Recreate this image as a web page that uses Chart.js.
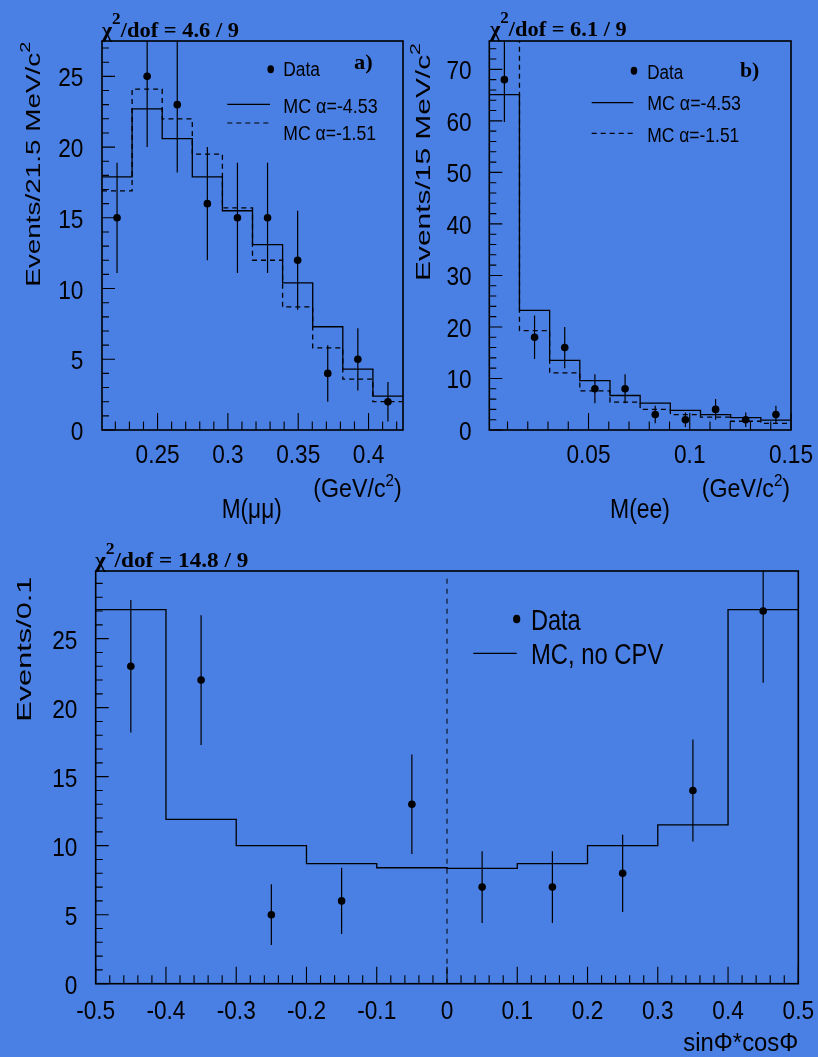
<!DOCTYPE html>
<html>
<head>
<meta charset="utf-8">
<script src="https://cdn.jsdelivr.net/npm/chart.js@4/dist/chart.umd.min.js"></script>
<style>
  html, body { margin: 0; padding: 0; background: #4a7fe3; }
  body { width: 818px; height: 1057px; position: relative; overflow: hidden; }
  canvas { position: absolute; }
</style>
</head>
<body>
<canvas id="ca" width="409" height="530" style="left:0;top:0"></canvas>
<canvas id="cb" width="409" height="530" style="left:409px;top:0"></canvas>
<canvas id="cc" width="818" height="527" style="left:0;top:530px"></canvas>
<script>
// ---- panel a: M(mu mu) ----
const aBinLo = 0.2105, aBinW = 0.0214;
const aData = [15, 25, 23, 16, 15, 15, 12, 4, 5, 2];
const aErr = [3.9, 5.0, 4.8, 4.0, 3.9, 3.9, 3.5, 2.0, 2.2, 1.4];
const aMcA = [17.9, 22.7, 20.6, 17.9, 15.5, 13.1, 10.4, 7.3, 4.3, 2.4];   // alpha = -4.53
const aMcB = [16.9, 24.1, 22.0, 19.5, 15.7, 12.0, 8.7, 5.8, 3.6, 2.0];    // alpha = -1.51
const aTicksX = [0.25, 0.3, 0.35, 0.4];
const aTicksY = [0, 5, 10, 15, 20, 25];

// ---- panel b: M(ee) ----
const bBinLo = 0.001, bBinW = 0.0149;
const bData = [68, 18, 16, 8, 8, 3, 2, 4, 2, 3];
const bErr = [8.2, 4.2, 4.0, 2.8, 2.8, 1.7, 1.4, 2.0, 1.4, 1.7];
const bMcA = [65.1, 23.2, 13.5, 9.6, 6.7, 5.2, 3.8, 3.0, 2.4, 1.9];
const bMcB = [79, 19.3, 11.1, 7.6, 5.4, 4.0, 3.0, 2.5, 1.7, 1.3];
const bTicksX = [0.05, 0.1, 0.15];
const bTicksY = [0, 10, 20, 30, 40, 50, 60, 70];

// ---- panel c: sinPhi*cosPhi ----
const cBinLo = -0.5, cBinW = 0.1;
const cData = [23, 22, 5, 6, 13, 7, 7, 8, 14, 27];
const cErr = [4.8, 4.7, 2.2, 2.4, 3.6, 2.6, 2.6, 2.8, 3.7, 5.2];
const cMc = [27.1, 11.9, 10.0, 8.7, 8.4, 8.35, 8.7, 10.0, 11.5, 27.1];
const cTicksX = [-0.5, -0.4, -0.3, -0.2, -0.1, 0, 0.1, 0.2, 0.3, 0.4, 0.5];
const cTicksY = [0, 5, 10, 15, 20, 25];

const SANS = '"Liberation Sans", Arial, Helvetica, sans-serif';
const SERIF = '"Liberation Serif", "Times New Roman", serif';

function histPts(lo, w, vals) {
  const pts = vals.map((v, i) => ({ x: lo + i * w, y: v }));
  pts.push({ x: lo + vals.length * w, y: vals[vals.length - 1] });
  return pts;
}
function centerPts(lo, w, vals) {
  return vals.map((v, i) => ({ x: lo + (i + 0.5) * w, y: v }));
}
function errPts(lo, w, vals, errs) {
  const pts = [];
  vals.forEach((v, i) => {
    const x = lo + (i + 0.5) * w;
    pts.push({ x: x, y: v - errs[i] }, { x: x, y: v + errs[i] }, { x: x, y: null });
  });
  return pts;
}

// draws text segments (for superscripts), optionally squeezed to a width
function text(ctx, segs, x, y, o) {
  o = o || {};
  ctx.save();
  ctx.translate(x, y);
  if (o.rot) ctx.rotate(o.rot);
  let w = 0;
  segs.forEach(s => { ctx.font = s.f; w += ctx.measureText(s.t).width; });
  ctx.scale(o.w ? o.w / w : (o.sx || 1), 1);
  let cx = o.align === 'right' ? -w : o.align === 'center' ? -w / 2 : 0;
  ctx.fillStyle = '#000';
  ctx.textAlign = 'left';
  ctx.textBaseline = 'alphabetic';
  segs.forEach(s => {
    ctx.font = s.f;
    ctx.fillText(s.t, cx, s.dy || 0);
    cx += ctx.measureText(s.t).width;
  });
  ctx.restore();
}

function sampleLine(ctx, x1, x2, y, dash) {
  ctx.save();
  ctx.strokeStyle = '#000';
  ctx.lineWidth = 1.2;
  ctx.setLineDash(dash || []);
  ctx.beginPath(); ctx.moveTo(x1, y); ctx.lineTo(x2, y); ctx.stroke();
  ctx.restore();
}
function dot(ctx, x, y, r) {
  ctx.fillStyle = '#000';
  ctx.beginPath(); ctx.ellipse(x, y, r, r * 1.2, 0, 0, Math.PI * 2); ctx.fill();
}

// ROOT-like frame: ticks inside, labels, then panel texts (page coords)
function rootFrame(cfg) {
  return {
    id: 'rootFrame',
    afterDatasetsDraw(chart) {
      const ctx = chart.ctx, a = chart.chartArea;
      const xs = chart.scales.x, ys = chart.scales.y;
      ctx.save();
      ctx.strokeStyle = '#000';
      ctx.lineWidth = 1.1;
      ctx.beginPath();
      for (let i = Math.ceil(ys.min / cfg.yMinor - 1e-6); i * cfg.yMinor <= ys.max + 1e-9; i++) {
        const v = i * cfg.yMinor;
        const major = Math.abs(v / cfg.yMajor - Math.round(v / cfg.yMajor)) < 1e-6;
        const py = ys.getPixelForValue(v);
        ctx.moveTo(a.left, py); ctx.lineTo(a.left + (major ? 13 : 7), py);
      }
      for (let i = Math.ceil(xs.min / cfg.xMinor - 1e-6); i * cfg.xMinor <= xs.max + 1e-9; i++) {
        const v = i * cfg.xMinor;
        const major = Math.abs(v / cfg.xMajor - Math.round(v / cfg.xMajor)) < 1e-6;
        const px = xs.getPixelForValue(v);
        ctx.moveTo(px, a.bottom); ctx.lineTo(px, a.bottom - (major ? 17 : 8.5));
      }
      ctx.stroke();
      ctx.lineWidth = 1.6;
      ctx.strokeRect(a.left, a.top, a.right - a.left, a.bottom - a.top);

      ctx.translate(-cfg.ox, -cfg.oy);
      const tf = '26px ' + SANS;
      cfg.yTicks.forEach(v => text(ctx, [{ t: String(v), f: tf }], cfg.yLabelX,
        ys.getPixelForValue(v) + cfg.oy + 10, { align: 'right', sx: 0.87 }));
      cfg.xTicks.forEach(v => text(ctx, [{ t: String(v), f: tf }], xs.getPixelForValue(v) + cfg.ox,
        cfg.xLabelY, { align: 'center', sx: 0.87 }));
      cfg.draw(ctx);
      ctx.restore();
    }
  };
}

function makeChart(id, lo, w, xmax, ymax, pad, datasets, frame) {
  return new Chart(document.getElementById(id), {
    type: 'line',
    data: { datasets: datasets },
    options: {
      responsive: false,
      animation: false,
      events: [],
      layout: { padding: pad },
      plugins: { legend: { display: false }, tooltip: { enabled: false } },
      scales: {
        x: { type: 'linear', min: lo, max: xmax, display: false },
        y: { type: 'linear', min: 0, max: ymax, display: false }
      }
    },
    plugins: [rootFrame(frame)]
  });
}

function histDs(lo, w, vals, dash) {
  return { data: histPts(lo, w, vals), stepped: true, borderColor: '#000', borderWidth: 1.3,
    borderDash: dash || [], pointRadius: 0, fill: false };
}
function dataDs(lo, w, vals) {
  return { data: centerPts(lo, w, vals), showLine: false, pointRadius: 3.8,
    pointBackgroundColor: '#000', pointBorderWidth: 0 };
}
function errDs(lo, w, vals, errs) {
  return { data: errPts(lo, w, vals, errs), borderColor: '#000', borderWidth: 1.2,
    pointRadius: 0, spanGaps: false };
}

function chi(ctx, val, x, y, w) {
  const f = 'bold 21px ' + SERIF;
  text(ctx, [{ t: '\u03c7', f: f }, { t: '2', f: 'bold 16px ' + SERIF, dy: -13 },
    { t: '/dof = ' + val, f: f }], x, y, { w: w });
}
function gev(ctx, x, y) {
  const f = '26px ' + SANS;
  text(ctx, [{ t: '(GeV/c', f: f }, { t: '2', f: '17px ' + SANS, dy: -11 }, { t: ')', f: f }],
    x, y, { w: 88.4 });
}
function ytitle(ctx, str, sup, x, y, w) {
  const segs = [{ t: str, f: '21px ' + SANS }];
  if (sup) segs.push({ t: '2', f: '15px ' + SANS, dy: -10 });
  text(ctx, segs, x, y, { rot: -Math.PI / 2, w: w });
}

// panel a
makeChart('ca', aBinLo, aBinW, aBinLo + 10 * aBinW, 27.5,
  { left: 102, top: 41, right: 6, bottom: 100 },
  [dataDs(aBinLo, aBinW, aData), errDs(aBinLo, aBinW, aData, aErr),
   histDs(aBinLo, aBinW, aMcA), histDs(aBinLo, aBinW, aMcB, [5, 4])],
  { ox: 0, oy: 0, xMinor: 0.01, xMajor: 0.05, yMinor: 1, yMajor: 5,
    xTicks: aTicksX, yTicks: aTicksY, yLabelX: 83.3, xLabelY: 463.3,
    draw(ctx) {
      chi(ctx, '4.6 / 9', 101.7, 36.7, 137.3);
      text(ctx, [{ t: 'a)', f: 'bold 22px ' + SERIF }], 354, 69, { w: 18.7 });
      dot(ctx, 270.7, 69.3, 3.3);
      text(ctx, [{ t: 'Data', f: '20px ' + SANS }], 283.3, 76, { w: 36.7 });
      sampleLine(ctx, 227.3, 270, 104.3);
      text(ctx, [{ t: 'MC \u03b1=-4.53', f: '20px ' + SANS }], 283.3, 113, { w: 94.4 });
      sampleLine(ctx, 227.3, 270, 123, [5, 4]);
      text(ctx, [{ t: 'MC \u03b1=-1.51', f: '20px ' + SANS }], 283.3, 140, { w: 92.7 });
      ytitle(ctx, 'Events/21.5 MeV/c', true, 40, 286.7, 245);
      text(ctx, [{ t: 'M(\u03bc\u03bc)', f: '27px ' + SANS }], 221.7, 517.7, { w: 60 });
      gev(ctx, 313.3, 497);
    } });

// panel b
makeChart('cb', bBinLo, bBinW, 0.15, 75.5,
  { left: 80.3, top: 41, right: 27, bottom: 100 },
  [dataDs(bBinLo, bBinW, bData), errDs(bBinLo, bBinW, bData, bErr),
   histDs(bBinLo, bBinW, bMcA), histDs(bBinLo, bBinW, bMcB, [5, 4])],
  { ox: 409, oy: 0, xMinor: 0.01, xMajor: 0.05, yMinor: 2, yMajor: 10,
    xTicks: bTicksX, yTicks: bTicksY, yLabelX: 471.7, xLabelY: 463.3,
    draw(ctx) {
      chi(ctx, '6.1 / 9', 490, 36, 136.7);
      text(ctx, [{ t: 'b)', f: 'bold 22px ' + SERIF }], 740, 76.5, { w: 19.3 });
      dot(ctx, 634, 70.7, 3.3);
      text(ctx, [{ t: 'Data', f: '20px ' + SANS }], 647.3, 79, { w: 36 });
      sampleLine(ctx, 591.7, 633.3, 102.7);
      text(ctx, [{ t: 'MC \u03b1=-4.53', f: '20px ' + SANS }], 647.3, 110, { w: 93.7 });
      sampleLine(ctx, 591.7, 633.3, 133.3, [5, 4]);
      text(ctx, [{ t: 'MC \u03b1=-1.51', f: '20px ' + SANS }], 647.3, 141.7, { w: 92 });
      ytitle(ctx, 'Events/15 MeV/c', true, 430, 281, 238);
      text(ctx, [{ t: 'M(ee)', f: '27px ' + SANS }], 610, 517.7, { w: 60 });
      gev(ctx, 701.7, 497);
    } });

// panel c
makeChart('cc', cBinLo, cBinW, 0.5, 29.9,
  { left: 95.7, top: 41, right: 19.7, bottom: 73.3 },
  [dataDs(cBinLo, cBinW, cData), errDs(cBinLo, cBinW, cData, cErr),
   histDs(cBinLo, cBinW, cMc),
   { data: [{ x: 0, y: 0 }, { x: 0, y: 29.6 }], borderColor: '#000', borderWidth: 1,
     borderDash: [5, 5], pointRadius: 0 }],
  { ox: 0, oy: 530, xMinor: 0.02, xMajor: 0.1, yMinor: 1, yMajor: 5,
    xTicks: cTicksX, yTicks: cTicksY, yLabelX: 77.3, xLabelY: 1019.3,
    draw(ctx) {
      chi(ctx, '14.8 / 9', 95, 566.7, 153.3);
      dot(ctx, 516.7, 619, 3.6);
      text(ctx, [{ t: 'Data', f: '30px ' + SANS }], 531, 630, { w: 49.7 });
      sampleLine(ctx, 473.3, 516.7, 653.3);
      text(ctx, [{ t: 'MC, no CPV', f: '30px ' + SANS }], 531, 664.3, { w: 132.3 });
      ytitle(ctx, 'Events/0.1', false, 31, 721.7, 145);
      text(ctx, [{ t: 'sin\u03a6*cos\u03a6', f: '26px ' + SANS }], 683.3, 1051, { w: 115 });
    } });
</script>
</body>
</html>
